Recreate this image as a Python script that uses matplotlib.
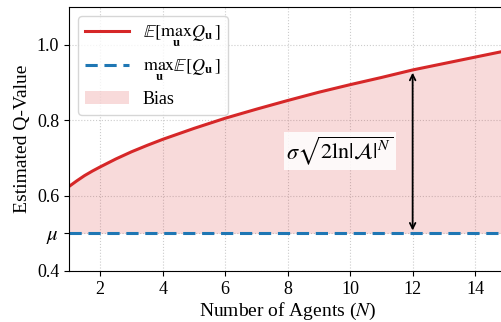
import numpy as np
import matplotlib
matplotlib.use('Agg')
import matplotlib.pyplot as plt

plt.rcParams['font.family'] = ['Liberation Serif', 'DejaVu Serif']
plt.rcParams['mathtext.fontset'] = 'stix'

# values
agents   = [1, 1.25, 1.5, 1.75, 2, 2.5, 3, 3.5, 4, 5, 6, 7, 8, 9, 10,
            11, 12, 13, 14, 15]
max_q    = [0.624, 0.639, 0.653, 0.665, 0.676, 0.697, 0.716, 0.733,
            0.749, 0.778, 0.805, 0.829, 0.852, 0.874, 0.894, 0.913,
            0.933, 0.950, 0.967, 0.984]
mu       = 0.5
arrow_n  = 12
yticks   = [0.4, 0.5, 0.6, 0.8, 1.0]
ylabels  = ['0.4', r'$\mu$', '0.6', '0.8', '1.0']

red  = '#d62728'
blue = '#1f77b4'

fig = plt.figure(figsize=(5.01, 3.22), dpi=100)
ax = fig.add_axes([0.1377, 0.1584, 0.873, 0.82])

ax.fill_between(agents, mu, max_q, color=red, alpha=0.17, lw=0, label='Bias')
ax.plot(agents, max_q, color=red, lw=2.2,
        label=r'$\mathbb{E}[\max_{\mathbf{u}} Q_{\mathbf{u}}]$')
ax.axhline(mu, color=blue, lw=2.2, ls=(0, (4, 2.2)),
           label=r'$\max_{\mathbf{u}} \mathbb{E}[Q_{\mathbf{u}}]$')

top = max_q[agents.index(arrow_n)]
ax.annotate('', xy=(arrow_n, top), xytext=(arrow_n, mu),
            arrowprops=dict(arrowstyle='<->', color='black', lw=1.3))
ax.text(9.67, 0.718, r'$\sigma\sqrt{2\ln|\mathcal{A}|^N}$', fontsize=16,
        ha='center', va='center',
        bbox=dict(boxstyle='square,pad=0.1', fc='white', ec='none', alpha=0.85))

ax.set_xlim(1, 15)
ax.set_ylim(0.4, 1.1)
ax.set_xticks([2, 4, 6, 8, 10, 12, 14])
ax.set_yticks(yticks)
ax.set_yticklabels(ylabels)
ax.tick_params(labelsize=13)
ax.get_yticklabels()[1].set_fontsize(15)
ax.grid(True, ls=':', color='#cccccc', lw=0.8)
ax.set_axisbelow(True)
ax.set_xlabel(r'Number of Agents ($N$)', fontsize=14, labelpad=2)
ax.set_ylabel('Estimated Q-Value', fontsize=14)

h, l = ax.get_legend_handles_labels()
ax.legend([h[1], h[2], h[0]], [l[1], l[2], l[0]], loc='upper left',
          fontsize=13, handlelength=2.4, borderaxespad=0.5,
          labelspacing=0.45)

fig.savefig('out.png', dpi=100)
